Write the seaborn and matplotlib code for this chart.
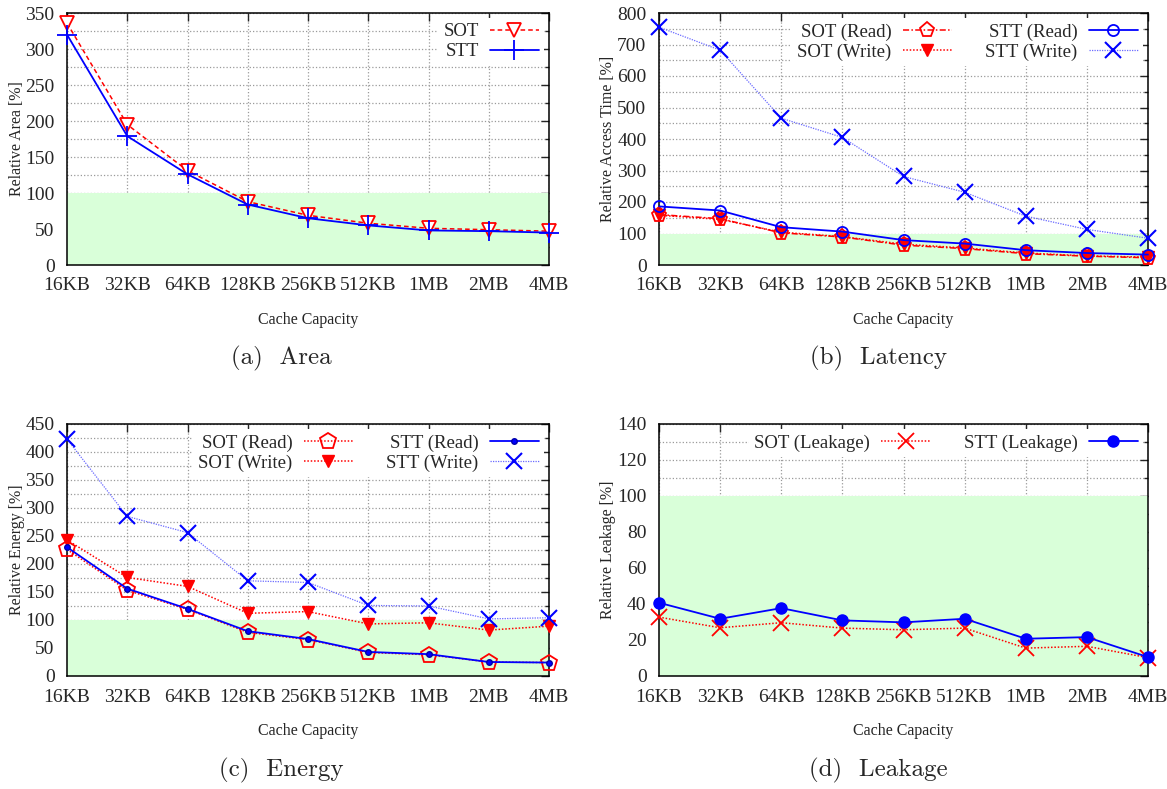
import numpy as np
import pandas as pd
import matplotlib.pyplot as plt
import seaborn as sns
from matplotlib.ticker import MultipleLocator

# data (relative to SRAM baseline = 100 %)
capacities = ['16KB', '32KB', '64KB', '128KB', '256KB', '512KB', '1MB', '2MB', '4MB']

area_sot = [336, 195, 131, 88, 69, 58, 51, 49, 47]
area_stt = [320, 179, 126, 84, 65, 55, 48, 47, 45]

lat_sot_read = [160, 147, 102, 89, 63, 52, 36, 28, 23]
lat_sot_write = [158, 145, 104, 90, 66, 54, 38, 29, 25]
lat_stt_read = [186, 173, 120, 106, 79, 68, 47, 38, 33]
lat_stt_write = [755, 682, 466, 405, 281, 231, 155, 113, 85]

en_sot_read = [226, 153, 119, 78, 65, 42, 38, 25, 24]
en_sot_write = [243, 176, 160, 112, 115, 93, 95, 82, 89]
en_stt_read = [230, 156, 120, 80, 66, 43, 39, 25, 24]
en_stt_write = [423, 285, 256, 170, 167, 126, 125, 102, 104]

leak_sot = [32.7, 26.8, 29.6, 26.6, 25.7, 26.6, 15.5, 16.5, 10.2]
leak_stt = [40.7, 31.8, 37.7, 30.9, 29.8, 31.8, 20.7, 21.6, 10.5]

sns.set_style('white')
plt.rcParams['font.family'] = ['Liberation Serif', 'DejaVu Serif']

RED = '#ff0000'
BLUE = '#0000ff'
LIGHT_BLUE = '#6a6aff'

# line styles
s_area_sot = dict(color=RED, linestyle=(0, (3, 2)), lw=1.1, marker='v', ms=10, mfc='white', mec=RED, mew=1.3)
s_area_stt = dict(color=BLUE, linestyle='-', lw=1.3, marker='+', ms=14, mec=BLUE, mew=1.3)
s_sot_read_b = dict(color=RED, linestyle=(0, (4, 1.5, 1, 1.5)), lw=1.1, marker='p', ms=11, mfc='none', mec=RED, mew=1.3)
s_sot_write = dict(color=RED, linestyle=(0, (1, 1.2)), lw=1.1, marker='v', ms=9, mfc=RED, mec=RED, mew=1)
s_stt_read_b = dict(color=BLUE, linestyle='-', lw=1.3, marker='o', ms=8, mfc='none', mec=BLUE, mew=1.3)
s_stt_write = dict(color=LIGHT_BLUE, linestyle=(0, (1, 1)), lw=0.9, marker='x', ms=12, mec=BLUE, mew=1.5)
s_sot_read_c = dict(color=RED, linestyle=(0, (1, 1.2)), lw=1.1, marker='p', ms=12, mfc='none', mec=RED, mew=1.3)
s_stt_read_c = dict(color=BLUE, linestyle='-', lw=1.3, marker='o', ms=4, mfc=BLUE, mec='#0000aa', mew=1)
s_leak_sot = dict(color=RED, linestyle=(0, (1, 1.2)), lw=1.1, marker='x', ms=12, mec=RED, mew=1.3)
s_leak_stt = dict(color=BLUE, linestyle='-', lw=1.3, marker='o', ms=8, mfc=BLUE, mec=BLUE, mew=1)

fig = plt.figure(figsize=(11.67, 7.89), dpi=100)
W, H = 1167, 789


def make_ax(left, top, right, bottom):
    return fig.add_axes([left / W, 1 - bottom / H, (right - left) / W, (bottom - top) / H])


ax_a = make_ax(67, 13, 549, 265)
ax_b = make_ax(659, 13, 1148, 265)
ax_c = make_ax(67, 424, 549, 676)
ax_d = make_ax(659, 424, 1148, 676)

x = np.arange(len(capacities))

panels = [
    (ax_a, 'Relative Area [%]', 350, 50, 1,
     [('SOT', area_sot, s_area_sot), ('STT', area_stt, s_area_stt)]),
    (ax_b, 'Relative Access Time [%]', 800, 100, 2,
     [('SOT (Read)', lat_sot_read, s_sot_read_b), ('SOT (Write)', lat_sot_write, s_sot_write),
      ('STT (Read)', lat_stt_read, s_stt_read_b), ('STT (Write)', lat_stt_write, s_stt_write)]),
    (ax_c, 'Relative Energy [%]', 450, 50, 2,
     [('SOT (Read)', en_sot_read, s_sot_read_c), ('SOT (Write)', en_sot_write, s_sot_write),
      ('STT (Read)', en_stt_read, s_stt_read_c), ('STT (Write)', en_stt_write, s_stt_write)]),
    (ax_d, 'Relative Leakage [%]', 140, 20, 2,
     [('SOT (Leakage)', leak_sot, s_leak_sot), ('STT (Leakage)', leak_stt, s_leak_stt)]),
]

for ax, ylabel, ymax, ystep, ncol, series in panels:
    # green band marks "better than SRAM"
    ax.axhspan(0, 100, color='#d9ffd9', zorder=1, lw=0)
    for label, vals, st in series:
        sns.lineplot(x=x, y=vals, ax=ax, label=label, sort=False, clip_on=False, zorder=3, **st)

    ax.set_xlim(0, len(capacities) - 1)
    ax.set_ylim(0, ymax)
    ax.set_xticks(x)
    ax.set_xticklabels(capacities)
    ax.yaxis.set_major_locator(MultipleLocator(ystep))
    ax.yaxis.set_minor_locator(MultipleLocator(ystep / 2))
    ax.tick_params(which='both', direction='in', top=True, right=True, labelsize=14)
    ax.tick_params(axis='x', which='major', pad=9)
    ax.tick_params(axis='y', which='major', pad=9)
    ax.tick_params(which='major', length=6, width=1)
    ax.tick_params(which='minor', length=3, width=1)
    ax.grid(which='major', axis='both', color='#9a9a9a', linestyle=':', lw=0.9)
    ax.grid(which='minor', axis='y', color='#9a9a9a', linestyle=':', lw=0.9)
    for sp in ax.spines.values():
        sp.set_color('black')
        sp.set_linewidth(1.1)

    ax.set_ylabel(ylabel, fontsize=11.5)
    ax.yaxis.set_label_coords(-0.088, 0.5)
    ax.set_xlabel('Cache Capacity', fontsize=11.5)
    ax.xaxis.set_label_coords(0.5, -0.185)

    leg = ax.legend(loc='upper right', ncol=ncol, markerfirst=False, fontsize=13.5,
                    frameon=True, framealpha=1, facecolor='white', edgecolor='none',
                    handlelength=2.6, handletextpad=0.6, columnspacing=1.8,
                    labelspacing=0.15, borderaxespad=0.25, borderpad=0.3, fancybox=False)
    leg.set_zorder(5)

captions = [('(a)  Area', 281, 358), ('(b)  Latency', 878, 358),
            ('(c)  Energy', 281, 770), ('(d)  Leakage', 878, 770)]
for txt, cx, cy in captions:
    fig.text(cx / W, 1 - cy / H, txt, ha='center', va='center', fontsize=18, family='cmr10')

plt.savefig('out.png', dpi=100)
